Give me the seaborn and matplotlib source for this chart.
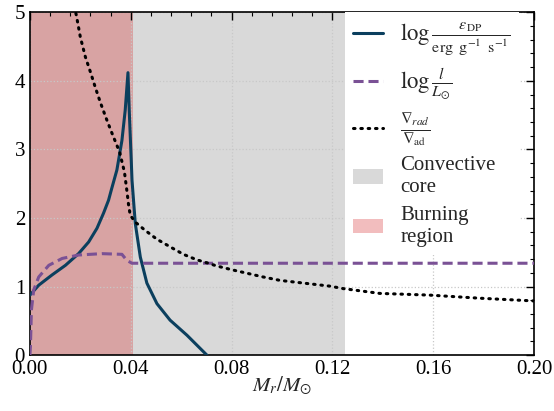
import numpy as np
import pandas as pd
import matplotlib
matplotlib.use("Agg")
import matplotlib.pyplot as plt
from matplotlib.ticker import MultipleLocator
import seaborn as sns

# ---- data ----
eps_x = [0.0, 0.0035, 0.0088, 0.0141, 0.0193, 0.0233, 0.0266, 0.0292, 0.0312, 0.0323, 0.0345,
         0.0365, 0.0378, 0.0389, 0.0394, 0.0402, 0.0405, 0.0418, 0.0438, 0.0464, 0.0504,
         0.0556, 0.0623, 0.0702]
eps_y = [0.875, 1.02, 1.17, 1.31, 1.48, 1.65, 1.85, 2.07, 2.26, 2.41, 2.70,
         3.13, 3.57, 4.12, 3.57, 2.84, 2.55, 1.92, 1.43, 1.05, 0.75,
         0.51, 0.29, 0.0]

lum_x = [0.0, 0.0002, 0.0006, 0.0015, 0.0035, 0.0075, 0.0128, 0.0193, 0.0286, 0.0365, 0.0385,
         0.0405, 0.20]
lum_y = [0.0, 0.12, 0.66, 0.95, 1.14, 1.31, 1.41, 1.46, 1.48, 1.47, 1.38,
         1.34, 1.34]

nab_x = [0.0165, 0.0184, 0.0200, 0.0220, 0.0240, 0.0259, 0.0279, 0.0303, 0.0323, 0.0356,
         0.0375, 0.0386, 0.0391, 0.0398, 0.0418, 0.0457, 0.0504, 0.0556, 0.0609, 0.0662,
         0.0708, 0.0741, 0.0807, 0.0925, 0.0992, 0.1190, 0.1243, 0.1388, 0.1586, 0.1784, 0.2000]
nab_y = [5.25, 4.96, 4.64, 4.35, 4.13, 3.91, 3.69, 3.45, 3.26, 2.96,
         2.67, 2.36, 2.20, 2.04, 1.94, 1.82, 1.69, 1.58, 1.47, 1.39,
         1.34, 1.30, 1.24, 1.14, 1.09, 1.006, 0.97, 0.90, 0.875, 0.83, 0.79]

conv_core = (0.0, 0.125)
burning = (0.0, 0.041)

labels = [r'$\log\frac{\varepsilon_{\rm DP}}{\rm erg\;\;g^{-1}\;\;s^{-1}}$',
          r'$\log\frac{l}{L_{\odot}}$',
          r'$\frac{\nabla_{rad}}{\nabla_{\rm ad}}$',
          'Convective\ncore',
          'Burning\nregion']
x_ticks = [0.00, 0.04, 0.08, 0.12, 0.16, 0.20]
x_ticklabels = ['0.00', '0.04', '0.08', '0.12', '0.16', '0.20']
y_ticks = [0, 1, 2, 3, 4, 5]

# ---- style ----
sns.set_theme(style="white")
plt.rcParams['font.family'] = ['Liberation Serif', 'DejaVu Serif']
plt.rcParams['mathtext.fontset'] = 'stix'

fig = plt.figure(figsize=(5.54, 4.11), dpi=100)
ax = fig.add_axes([0.054, 0.136, 0.910, 0.834])

ax.axvspan(*conv_core, color='#d9d9d9', lw=0, label=labels[3], zorder=0)
ax.axvspan(*burning, color='tab:red', alpha=0.3, lw=0, label=labels[4], zorder=0.5)

df_e = pd.DataFrame({'x': eps_x, 'y': eps_y})
df_l = pd.DataFrame({'x': lum_x, 'y': lum_y})
df_n = pd.DataFrame({'x': nab_x, 'y': nab_y})

sns.lineplot(data=df_e, x='x', y='y', ax=ax, color='#0b3f5e', lw=2.2, label=labels[0], sort=False, zorder=3)
sns.lineplot(data=df_l, x='x', y='y', ax=ax, color='#7a5195', lw=2.2, ls=(0, (3.3, 1.6)), label=labels[1], sort=False, zorder=3)
sns.lineplot(data=df_n, x='x', y='y', ax=ax, color='black', lw=2.2, ls=(0, (0.5, 1.9)),
             label=labels[2], sort=False, zorder=3)
ax.get_lines()[-1].set_dash_capstyle('round')
for l in ax.get_lines():
    l.set_solid_joinstyle('round')

ax.set_xlim(0, 0.20)
ax.set_ylim(0, 5)
ax.set_xticks(x_ticks)
ax.set_xticklabels(x_ticklabels)
ax.set_yticks(y_ticks)
ax.xaxis.set_minor_locator(MultipleLocator(0.008))
ax.yaxis.set_minor_locator(MultipleLocator(0.2))
ax.tick_params(which='both', direction='in', top=True, right=True, labelsize=15, colors='black')
ax.tick_params(which='major', length=6, width=1)
ax.tick_params(which='minor', length=3, width=0.8)
ax.grid(True, which='major', ls=':', color='#c8c8c8', lw=0.9)
for s in ax.spines.values():
    s.set_color('black')
    s.set_linewidth(1.2)

ax.set_xlabel(r'$M_r/M_{\odot}$', fontsize=15, labelpad=-3)
ax.set_ylabel('')

h, lab = ax.get_legend_handles_labels()
order = [lab.index(t) for t in labels]
leg = ax.legend([h[i] for i in order], [lab[i] for i in order], loc='upper left',
                bbox_to_anchor=(0.625, 1.0), borderaxespad=0.0,
                fontsize=15, frameon=True, fancybox=False, framealpha=1, edgecolor='none',
                facecolor='white', handlelength=1.4, handletextpad=0.85, labelspacing=0.42)
for t in leg.get_texts()[:3]:
    t.set_fontsize(16.5)
leg.set_zorder(5)

fig.savefig('out.png', dpi=100)
